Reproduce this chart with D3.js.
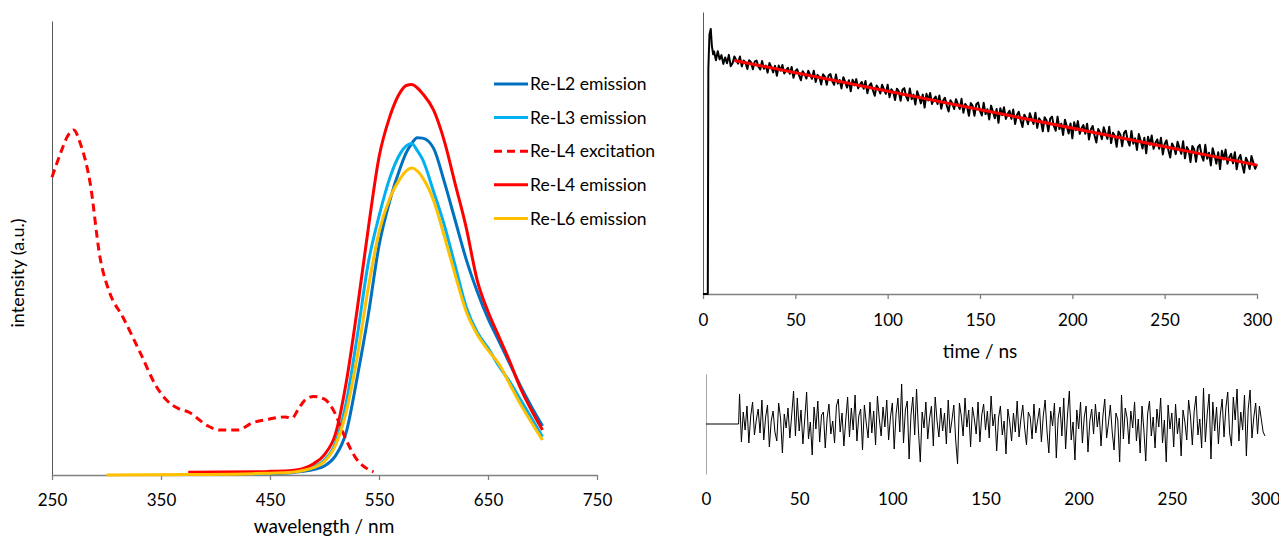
<!DOCTYPE html>
<html>
<head>
<meta charset="utf-8">
<script src="https://cdn.jsdelivr.net/npm/d3@7"></script>
<style>
    body { margin: 0; background: #fff; }
    svg text { font-family: Lato, 'Open Sans', sans-serif; fill: #000; }
</style>
</head>
<body>
<svg id="chart" width="1279" height="539"></svg>
<script>
// ---- left panel: steady state spectra ----
const wlTicks = [250, 350, 450, 550, 650, 750]

// Re-L4 excitation
const excWl = [250, 258, 264, 270, 276, 285, 294, 303, 315, 331, 346, 355, 367, 375, 393, 404, 420, 434, 449, 464, 470, 476, 482, 490, 500, 509, 517, 528, 545]
const excInt = [65.6, 71, 74.5, 76, 73, 64.3, 48, 40.1, 34.8, 26.9, 19.4, 16.5, 14.5, 13.9, 10.8, 9.9, 9.9, 11.5, 12.3, 12.8, 12.5, 14.5, 16.5, 17.3, 16.7, 13.9, 9.3, 4.0, 0.7]

// emission spectra share one wavelength grid
const emWl = [300, 375, 435, 450, 470, 480, 490, 500, 510, 520, 530, 540, 550, 560, 570, 575, 580, 585, 590, 600, 610, 620, 630, 640, 650, 660, 670, 680, 690, 700]
const emL2 = [null, null, null, 0.3, 0.5, 0.8, 1.2, 2.0, 4.2, 9.5, 21.5, 35, 50.5, 60.5, 68, 71, 73, 74.3, 74.2, 72, 64.5, 56, 47.5, 40.5, 34.5, 29.5, 24.5, 19.5, 15, 10.8]
const emL3 = [null, null, 0.2, 0.4, 0.7, 1.0, 1.8, 3.3, 7.0, 16, 30.5, 46.5, 57, 65.5, 71, 72.5, 73, 71.5, 69.5, 62.5, 55, 46, 37, 31.5, 28, 24, 20.5, 16.5, 12.5, 8.4]
const emL4 = [null, 0.6, 0.7, 0.8, 1.0, 1.4, 2.5, 4.5, 9.0, 20.5, 36.5, 54, 70, 79, 84.5, 85.8, 86, 85.3, 84, 80.4, 73.5, 64, 54.5, 43, 36, 30.5, 25, 19, 14.2, 9.9]
const emL6 = [0, 0.1, 0.3, 0.4, 0.6, 1.0, 1.6, 3.0, 6.5, 14, 26, 41, 53.5, 61, 65.5, 67, 67.6, 67, 65.5, 60.5, 52.5, 44, 36, 31, 27.5, 24.5, 20, 15.5, 11.5, 7.7]

const seriesNames = ['Re-L2 emission', 'Re-L3 emission', 'Re-L4 excitation', 'Re-L4 emission', 'Re-L6 emission']
const seriesColors = ['#0070C0', '#00B0F0', '#FF0000', '#FF0000', '#FFC000']

// ---- right panels: lifetime decay + residuals ----
const timeTicks = [0, 50, 100, 150, 200, 250, 300]

// rising edge of the decay trace
const riseT = [0, 2.6, 2.9, 3.5, 4.2, 4.8, 5.5]
const riseCounts = [0, 0, 80, 92, 94, 88, 85]

// decay trace, one value per ns from 6 ns
const decayStart = 6
const decayCounts = [
    86.0, 82.9, 86.1, 83.2, 84.7, 81.6, 83.9, 81.8, 84.8, 80.8,
    81.8, 84.2, 82.9, 81.7, 84.2, 80.7, 82.8, 82.1, 79.8, 82.9,
    82.2, 79.7, 82.4, 82.8, 80.7, 79.6, 82.6, 79.9, 81.0, 78.5,
    81.9, 80.4, 78.6, 80.9, 77.4, 81.0, 79.2, 81.2, 78.2, 79.5,
    80.2, 78.1, 80.5, 76.7, 79.0, 79.7, 77.6, 75.8, 79.0, 78.0,
    76.4, 79.2, 77.7, 76.3, 79.2, 75.2, 77.7, 77.0, 74.3, 77.9,
    77.1, 74.2, 77.5, 78.0, 75.5, 74.2, 77.8, 74.6, 75.9, 72.9,
    76.9, 75.2, 73.2, 75.8, 71.9, 76.0, 74.0, 76.2, 72.9, 74.3,
    75.2, 72.8, 75.5, 71.2, 73.8, 74.7, 72.3, 70.3, 73.9, 72.9,
    71.1, 74.2, 72.6, 71.0, 74.2, 69.8, 72.6, 71.8, 68.8, 72.8,
    71.9, 68.5, 72.4, 73.0, 70.1, 68.6, 72.9, 69.1, 70.7, 67.2,
    71.9, 69.9, 67.6, 70.7, 66.1, 71.0, 68.6, 71.3, 67.4, 69.1,
    70.0, 67.4, 70.4, 65.7, 68.6, 69.6, 66.9, 64.7, 68.7, 67.6,
    65.6, 69.1, 67.3, 65.6, 69.2, 64.3, 67.4, 66.5, 63.2, 67.7,
    66.7, 63.2, 67.3, 67.9, 64.9, 63.3, 67.8, 63.8, 65.5, 61.9,
    66.8, 64.7, 62.3, 65.6, 60.7, 65.9, 63.4, 66.2, 62.1, 63.9,
    65.0, 62.1, 65.4, 60.3, 63.5, 64.6, 61.6, 59.2, 63.6, 62.4,
    60.2, 64.1, 62.1, 60.3, 64.3, 58.9, 62.3, 61.3, 57.7, 62.7,
    61.6, 57.7, 62.2, 62.9, 59.6, 57.9, 62.9, 58.5, 60.4, 56.4,
    61.8, 59.5, 56.9, 60.5, 55.2, 60.9, 58.1, 61.3, 56.8, 58.8,
    59.9, 56.8, 60.4, 54.8, 58.3, 59.6, 56.3, 53.7, 58.5, 57.3,
    54.9, 59.1, 57.0, 55.0, 59.3, 53.5, 57.2, 56.1, 52.2, 57.6,
    56.5, 52.4, 57.1, 57.9, 54.4, 52.6, 57.8, 53.3, 55.2, 51.1,
    56.7, 54.3, 51.6, 55.4, 49.9, 55.8, 52.9, 56.2, 51.5, 53.6,
    54.8, 51.5, 55.4, 49.5, 53.2, 54.5, 51.1, 48.4, 53.4, 52.1,
    49.6, 54.0, 51.8, 49.7, 54.2, 48.1, 52.1, 51.0, 46.8, 52.5,
    51.3, 46.9, 52.1, 52.9, 49.1, 47.3, 52.9, 48.0, 50.1, 45.6,
    51.7, 49.2, 46.2, 50.3, 44.3, 50.8, 47.7, 51.2, 46.2, 48.5,
    49.7, 46.3, 50.3, 44.2, 48.0, 49.3, 45.9, 43.0, 48.3, 46.9,
    44.3, 48.9, 46.6, 44.4, 46.0
]

// mono-exponential fit (straight on the log axis)
const fitT = [17, 300]
const fitCounts = [82.8, 45.7]

// residuals: flat before the fit window, then one value per ns from 18 ns
const residFlatT = [0, 17.5]
const residStart = 18
const residuals = [
    3.0, -1.8, 1.2, -0.6, 1.8, -1.9, 0.8, 2.2, -1.1, 0.4,
    1.5, -0.9, 2.4, -1.6, 0.7, 1.9, -2.3, 0.3, 1.3, -0.8,
    -1.7, 2.1, 0.6, -2.9, 1.0, -0.4, 1.6, -1.4, 0.9, 3.3,
    -1.2, 2.6, -0.7, 1.4, -2.0, 0.5, 3.2, -1.5, 0.2, -3.1,
    1.7, -0.5, 2.3, -1.8, 0.9, 1.2, -2.4, 0.6, 2.0, -1.0,
    0.3, -1.9, 1.8, 2.5, -0.8, 1.1, -2.2, 0.4, 2.7, -1.3,
    1.6, -0.6, 2.9, -1.7, 0.8, 1.5, -2.6, 1.9, 0.1, -1.4,
    2.2, -0.9, 1.3, -2.1, 2.8, 0.5, -1.2, 1.7, -0.3, 2.4,
    -1.6, 0.7, 2.1, -2.5, 1.0, 2.6, -0.8, 4.0, -1.9, 1.4,
    2.3, -3.5, 0.9, 2.7, -1.1, 3.5, -0.6, -3.8, 1.2, -0.4,
    2.2, -1.5, 0.6, 1.8, -2.2, 2.7, 0.3, -1.3, 1.6, -0.7,
    1.1, -2.0, 2.4, -0.9, 0.4, 1.9, -1.6, -4.0, 2.1, 0.8,
    -1.2, 2.6, -0.3, 1.4, -2.3, 1.7, 0.5, -1.0, 2.2, -1.8,
    0.9, 2.0, -0.6, 1.3, -1.4, 2.8, -0.2, 1.0, -2.7, 0.6,
    1.8, -1.1, 0.3, -3.0, 1.5, 0.2, -1.7, 1.1, -0.8, 2.3,
    -1.3, 0.5, 1.9, -0.4, -2.1, 1.2, 0.7, -1.5, 2.0, -0.9,
    0.4, 1.6, -1.8, 0.8, 2.4, -0.7, -2.9, 1.3, -0.2, 2.1,
    -3.4, 0.6, 1.7, -1.2, 2.6, -2.5, 0.9, 3.3, -1.6, 0.2,
    -3.6, 1.4, -0.5, 2.2, -1.9, 0.7, 1.8, -2.8, 0.3, 1.5,
    -1.0, 2.0, -0.3, 1.2, -2.2, 0.8, 2.5, -1.4, 0.1, 1.9,
    -0.8, -2.6, 1.1, 0.4, -3.8, 2.9, -1.5, 1.6, 0.6, -2.0,
    1.3, -0.4, 2.2, -1.7, 0.5, -2.9, 1.8, -0.6, -3.7, 1.0,
    2.3, -1.2, 0.7, -2.4, 1.5, -0.3, 2.6, -1.9, 0.4, -3.8,
    1.9, -0.5, 1.1, -2.3, 2.0, -1.0, 0.6, -3.2, 1.4, 0.2,
    -1.6, 2.4, 0.8, -2.1, 1.3, 2.8, -1.1, 0.5, -2.4, 3.6,
    -1.8, 1.0, 3.0, -3.5, 2.2, -0.7, 1.7, -2.0, 0.9, 2.5,
    -1.3, 1.6, 3.2, -0.9, -2.2, 2.7, 0.4, 3.5, -1.7, 1.2,
    -0.6, 2.9, -3.2, 1.5, 3.4, -1.4, 0.7, 2.1, -1.0, 1.8,
    0.5, -0.8, -1.2
]

const svg = d3.select('#chart')
const axisColor = '#595959'

// ================= left panel =================
const xWl = d3.scaleLinear().domain([250, 750]).range([52, 597])
const yInt = d3.scaleLinear().domain([0, 100]).range([475, 21])

const left = svg.append('g')

left.append('g')
    .attr('transform', 'translate(52,0)')
    .call(d3.axisLeft(yInt).ticks(0).tickSizeOuter(0))
    .call(g => g.select('.domain').attr('stroke', axisColor))

left.append('g')
    .attr('transform', 'translate(0,475)')
    .call(d3.axisBottom(xWl).tickValues(wlTicks).tickSize(5).tickSizeOuter(0).tickPadding(14))
    .call(g => g.select('.domain').attr('stroke', '#808080').attr('stroke-width', 1.3))
    .call(g => g.selectAll('.tick line').attr('stroke', '#808080').attr('stroke-width', 1.3))
    .call(g => g.selectAll('.tick text').style('font-size', '17px'))

const specLine = d3.line()
    .defined(d => d[1] !== null)
    .x(d => xWl(d[0]))
    .y(d => yInt(d[1]))
    .curve(d3.curveMonotoneX)

const spectra = [
    emWl.map((w, i) => [w, emL2[i]]),
    emWl.map((w, i) => [w, emL3[i]]),
    excWl.map((w, i) => [w, excInt[i]]),
    emWl.map((w, i) => [w, emL4[i]]),
    emWl.map((w, i) => [w, emL6[i]])
]

left.append('g')
    .selectAll('path')
    .data(spectra)
    .join('path')
    .attr('d', specLine)
    .attr('fill', 'none')
    .attr('stroke', (d, i) => seriesColors[i])
    .attr('stroke-width', 3)
    .attr('stroke-dasharray', (d, i) => i === 2 ? '8,5' : null)
    .attr('stroke-linejoin', 'round')

left.append('text')
    .attr('x', 324)
    .attr('y', 533)
    .attr('text-anchor', 'middle')
    .style('font-size', '19px')
    .text('wavelength / nm')

left.append('text')
    .attr('transform', 'translate(24,273) rotate(-90)')
    .attr('text-anchor', 'middle')
    .style('font-size', '18px')
    .text('intensity (a.u.)')

// legend
const legend = left.append('g')
    .selectAll('g')
    .data(seriesNames)
    .join('g')
    .attr('transform', (d, i) => `translate(494,${84 + i * 33.6})`)

legend.append('line')
    .attr('x1', 0).attr('x2', 34)
    .attr('stroke', (d, i) => seriesColors[i])
    .attr('stroke-width', 3)
    .attr('stroke-dasharray', (d, i) => i === 2 ? '8,5' : null)

legend.append('text')
    .attr('x', 36)
    .attr('dy', '0.35em')
    .style('font-size', '17.5px')
    .text(d => d)

// ================= top right: decay =================
const xTime = d3.scaleLinear().domain([0, 300]).range([703, 1257])
const yCounts = d3.scaleLinear().domain([0, 100]).range([294, 12])

const decay = svg.append('g')

decay.append('g')
    .attr('transform', 'translate(703,0)')
    .call(d3.axisLeft(yCounts).ticks(0).tickSizeOuter(0))
    .call(g => g.select('.domain').attr('stroke', axisColor))

decay.append('g')
    .attr('transform', 'translate(0,294)')
    .call(d3.axisBottom(xTime).tickValues(timeTicks).tickSize(5).tickSizeOuter(0).tickPadding(15))
    .call(g => g.select('.domain').attr('stroke', '#808080').attr('stroke-width', 1.3))
    .call(g => g.selectAll('.tick line').attr('stroke', '#808080').attr('stroke-width', 1.3))
    .call(g => g.selectAll('.tick text').style('font-size', '17px'))

const decayPts = riseT.map((t, i) => [t, riseCounts[i]])
    .concat(decayCounts.map((c, i) => [decayStart + i, c]))

const timeLine = d3.line()
    .x(d => xTime(d[0]))
    .y(d => yCounts(d[1]))

decay.append('path')
    .attr('d', timeLine(decayPts))
    .attr('fill', 'none')
    .attr('stroke', '#000')
    .attr('stroke-width', 2)
    .attr('stroke-linejoin', 'round')

decay.append('path')
    .attr('d', timeLine(fitT.map((t, i) => [t, fitCounts[i]])))
    .attr('fill', 'none')
    .attr('stroke', '#FF0000')
    .attr('stroke-width', 3)

decay.append('text')
    .attr('x', 980)
    .attr('y', 358)
    .attr('text-anchor', 'middle')
    .style('font-size', '19px')
    .text('time / ns')

// ================= bottom right: residuals =================
const xRes = d3.scaleLinear().domain([0, 300]).range([706, 1265])
const yRes = d3.scaleLinear().domain([-5, 5]).range([474, 374])

const resid = svg.append('g')

resid.append('g')
    .attr('transform', 'translate(706,0)')
    .call(d3.axisLeft(yRes).ticks(0).tickSizeOuter(0))
    .call(g => g.select('.domain').attr('stroke', '#a6a6a6'))

resid.append('g')
    .attr('transform', 'translate(0,474)')
    .call(d3.axisBottom(xRes).tickValues(timeTicks).tickSize(0).tickPadding(19))
    .call(g => g.select('.domain').remove())
    .call(g => g.selectAll('.tick text').style('font-size', '17px'))

const resPts = residFlatT.map(t => [t, 0])
    .concat(residuals.map((r, i) => [residStart + i, r]))

resid.append('path')
    .attr('d', d3.line().x(d => xRes(d[0])).y(d => yRes(d[1]))(resPts))
    .attr('fill', 'none')
    .attr('stroke', '#000')
    .attr('stroke-width', 1)
</script>
</body>
</html>
